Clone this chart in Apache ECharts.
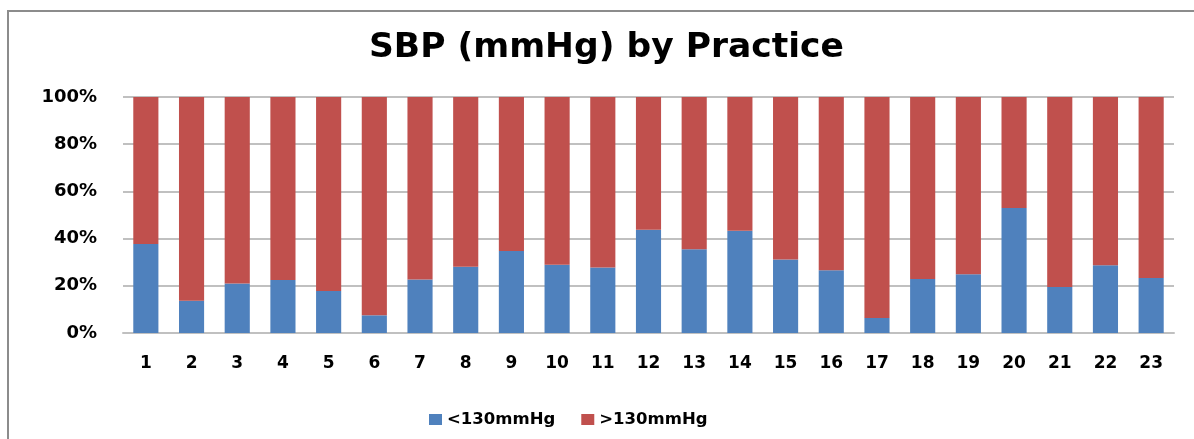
<!DOCTYPE html>
<html>
<head>
<meta charset="utf-8">
<title>SBP (mmHg) by Practice</title>
<script src="https://cdn.jsdelivr.net/npm/echarts@6/dist/echarts.min.js"></script>
<style>
  html, body { margin: 0; padding: 0; background: #ffffff; }
  #chart { width: 1194px; height: 439px; }
</style>
</head>
<body>
<div id="chart"></div>
<script>
// Practices 1..23
const practices = ['1','2','3','4','5','6','7','8','9','10','11','12','13','14','15','16','17','18','19','20','21','22','23'];
// Share of patients with SBP below 130 mmHg (%)
const below130 = [37.7, 13.7, 21.0, 22.5, 17.8, 7.5, 22.7, 28.1, 34.7, 28.9, 27.8, 43.8, 35.5, 43.3, 31.1, 26.6, 6.4, 22.9, 24.9, 53.0, 19.5, 28.7, 23.3];
// Share of patients with SBP above 130 mmHg (%)
const above130 = [62.3, 86.3, 79.0, 77.5, 82.2, 92.5, 77.3, 71.9, 65.3, 71.1, 72.2, 56.2, 64.5, 56.7, 68.9, 73.4, 93.6, 77.1, 75.1, 47.0, 80.5, 71.3, 76.7];
const seriesNames = ['<130mmHg', '>130mmHg'];
const yTicks = [0, 20, 40, 60, 80, 100];

const FONT = '"DejaVu Sans", sans-serif';
const chart = echarts.init(document.getElementById('chart'), null, { renderer: 'canvas' });

chart.setOption({
  backgroundColor: '#ffffff',
  animation: false,
  graphic: [{
    type: 'rect',
    shape: { x: 8, y: 11, width: 1400, height: 700 },
    style: { fill: 'none', stroke: '#8c8c8c', lineWidth: 2 },
    silent: true,
    z: -1
  }],
  title: {
    text: 'SBP (mmHg) by Practice',
    left: 364,
    top: 26,
    textStyle: { fontFamily: FONT, fontWeight: 'bold', fontSize: 34.5, color: '#000000' }
  },
  legend: {
    data: seriesNames,
    bottom: 6,
    left: 424,
    icon: 'rect',
    itemWidth: 13,
    itemHeight: 11,
    itemGap: 26,
    textStyle: { fontFamily: FONT, fontWeight: 'bold', fontSize: 16.5, color: '#000000' }
  },
  grid: { left: 123, right: 20, top: 97, bottom: 106, containLabel: false },
  xAxis: {
    type: 'category',
    data: practices,
    axisLine: { lineStyle: { color: '#c0c0c0', width: 2 } },
    axisTick: { show: false },
    axisLabel: { margin: 22, fontFamily: FONT, fontWeight: 'bold', fontSize: 17, color: '#000000', interval: 0 }
  },
  yAxis: {
    type: 'value',
    min: yTicks[0],
    max: yTicks[yTicks.length - 1],
    interval: yTicks[1] - yTicks[0],
    axisLine: { show: false },
    axisTick: { show: false },
    splitLine: { lineStyle: { color: '#c0c0c0', width: 2 } },
    axisLabel: { margin: 26, fontFamily: FONT, fontWeight: 'bold', fontSize: 18, color: '#000000', formatter: '{value}%' }
  },
  series: [
    {
      name: seriesNames[0],
      type: 'bar',
      stack: 'total',
      data: below130,
      barCategoryGap: '45%',
      itemStyle: { color: '#4F81BD' }
    },
    {
      name: seriesNames[1],
      type: 'bar',
      stack: 'total',
      data: above130,
      barCategoryGap: '45%',
      itemStyle: { color: '#C0504D' }
    }
  ]
});
</script>
</body>
</html>
